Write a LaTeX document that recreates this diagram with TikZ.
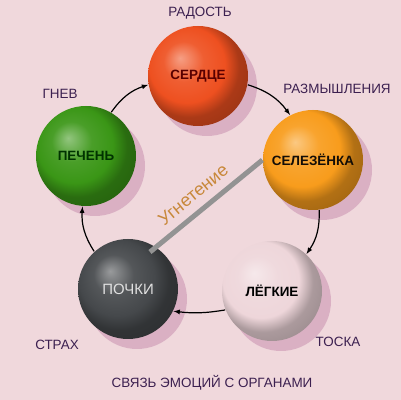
\documentclass[tikz,border=0pt]{standalone}
\usepackage{fontspec}
\setmainfont{Liberation Sans}
\usepackage{tikz}
\usetikzlibrary{arrows,shapes,shadows}

\definecolor{bgpink}{HTML}{F0D8DC}
\definecolor{emotext}{HTML}{3C2050}
\definecolor{shadowpink}{HTML}{C890B0}
\definecolor{redball}{HTML}{EE5020}
\definecolor{orangeball}{HTML}{F89C1C}
\definecolor{greenball}{HTML}{3A9616}
\definecolor{greyball}{HTML}{45484B}
\definecolor{pinkball}{HTML}{EED6DA}
\definecolor{suppress}{HTML}{C8883A}

% sphere shadings, one per colour
\newcommand\spherecolor[2]{%
  \pgfdeclareradialshading{#1}{\pgfqpoint{-9bp}{9bp}}{%
    color(0bp)=(#2!55!white); color(10bp)=(#2!92!white);
    color(19bp)=(#2); color(25bp)=(#2!72!black); color(50bp)=(#2!50!black)}}
\spherecolor{redsphere}{redball}
\spherecolor{orangesphere}{orangeball}
\spherecolor{greensphere}{greenball}
\spherecolor{greysphere}{greyball}
\spherecolor{pinksphere}{pinkball}

\begin{document}
\begin{tikzpicture}[>=latex,line join=bevel,
  sphere/.style={circle,minimum size=100bp,inner sep=0pt,
    font=\fontsize{13.5}{15}\selectfont\bfseries,
    drop shadow={shadow xshift=9bp,shadow yshift=-10bp,fill=shadowpink,opacity=0.55}},
  emotion/.style={text=emotext,font=\fontsize{13.5}{15}\selectfont},
  cycle/.style={->,black,bend left=18}]
  \pgfsetlinewidth{1.2bp}
  \path [fill=bgpink] (0bp,0bp) rectangle (401bp,400bp);
%%
  % Node: serdce
  \node [sphere,shading=redsphere,text=red!35!black] (serdce) at (198bp,324bp) {СЕРДЦЕ};
  % Node: selezenka
  \node [sphere,shading=orangesphere,text=black!90!brown] (selezenka) at (313bp,240bp) {СЕЛЕЗЁНКА};
  % Node: legkie
  \node [sphere,shading=pinksphere,text=black] (legkie) at (272bp,109bp) {ЛЁГКИЕ};
  % Node: pochki
  \node [sphere,shading=greysphere,text=white!88!black,font=\fontsize{15}{17}\selectfont] (pochki) at (128bp,111bp) {ПОЧКИ};
  % Node: pechen
  \node [sphere,shading=greensphere,text=green!20!black] (pechen) at (86bp,244bp) {ПЕЧЕНЬ};
%
  % Edge: serdce -> selezenka
  \draw [cycle] (serdce.-10) to (selezenka.117);
  % Edge: selezenka -> legkie
  \draw [cycle] (selezenka.-83) to (legkie.47);
  % Edge: legkie -> pochki
  \draw [cycle,bend left=8] (legkie.202) to (pochki.-26);
  % Edge: pochki -> pechen
  \draw [cycle] (pochki.132) to (pechen.266);
  % Edge: pechen -> serdce
  \draw [cycle] (pechen.60) to (serdce.190);
%
  % Edge: pochki -- selezenka (suppression)
  \coordinate (ugnet) at (150bp,148bp);
  \draw [line width=5bp,gray!85] (ugnet) -- (selezenka.west)
    node [pos=0.48,sloped,above=5bp,text=suppress,font=\fontsize{18}{20}\selectfont] (ugnetlabel) {Угнетение};
%
  % Emotions
  \node [emotion] (radost) at (200bp,387bp) {РАДОСТЬ};
  \node [emotion] (razmysh) at (337bp,311bp) {РАЗМЫШЛЕНИЯ};
  \node [emotion] (toska) at (338bp,58bp) {ТОСКА};
  \node [emotion] (strakh) at (57bp,55bp) {СТРАХ};
  \node [emotion] (gnev) at (60bp,306bp) {ГНЕВ};
  \node [emotion] (title) at (212bp,17bp) {СВЯЗЬ ЭМОЦИЙ С ОРГАНАМИ};
\end{tikzpicture}
\end{document}
